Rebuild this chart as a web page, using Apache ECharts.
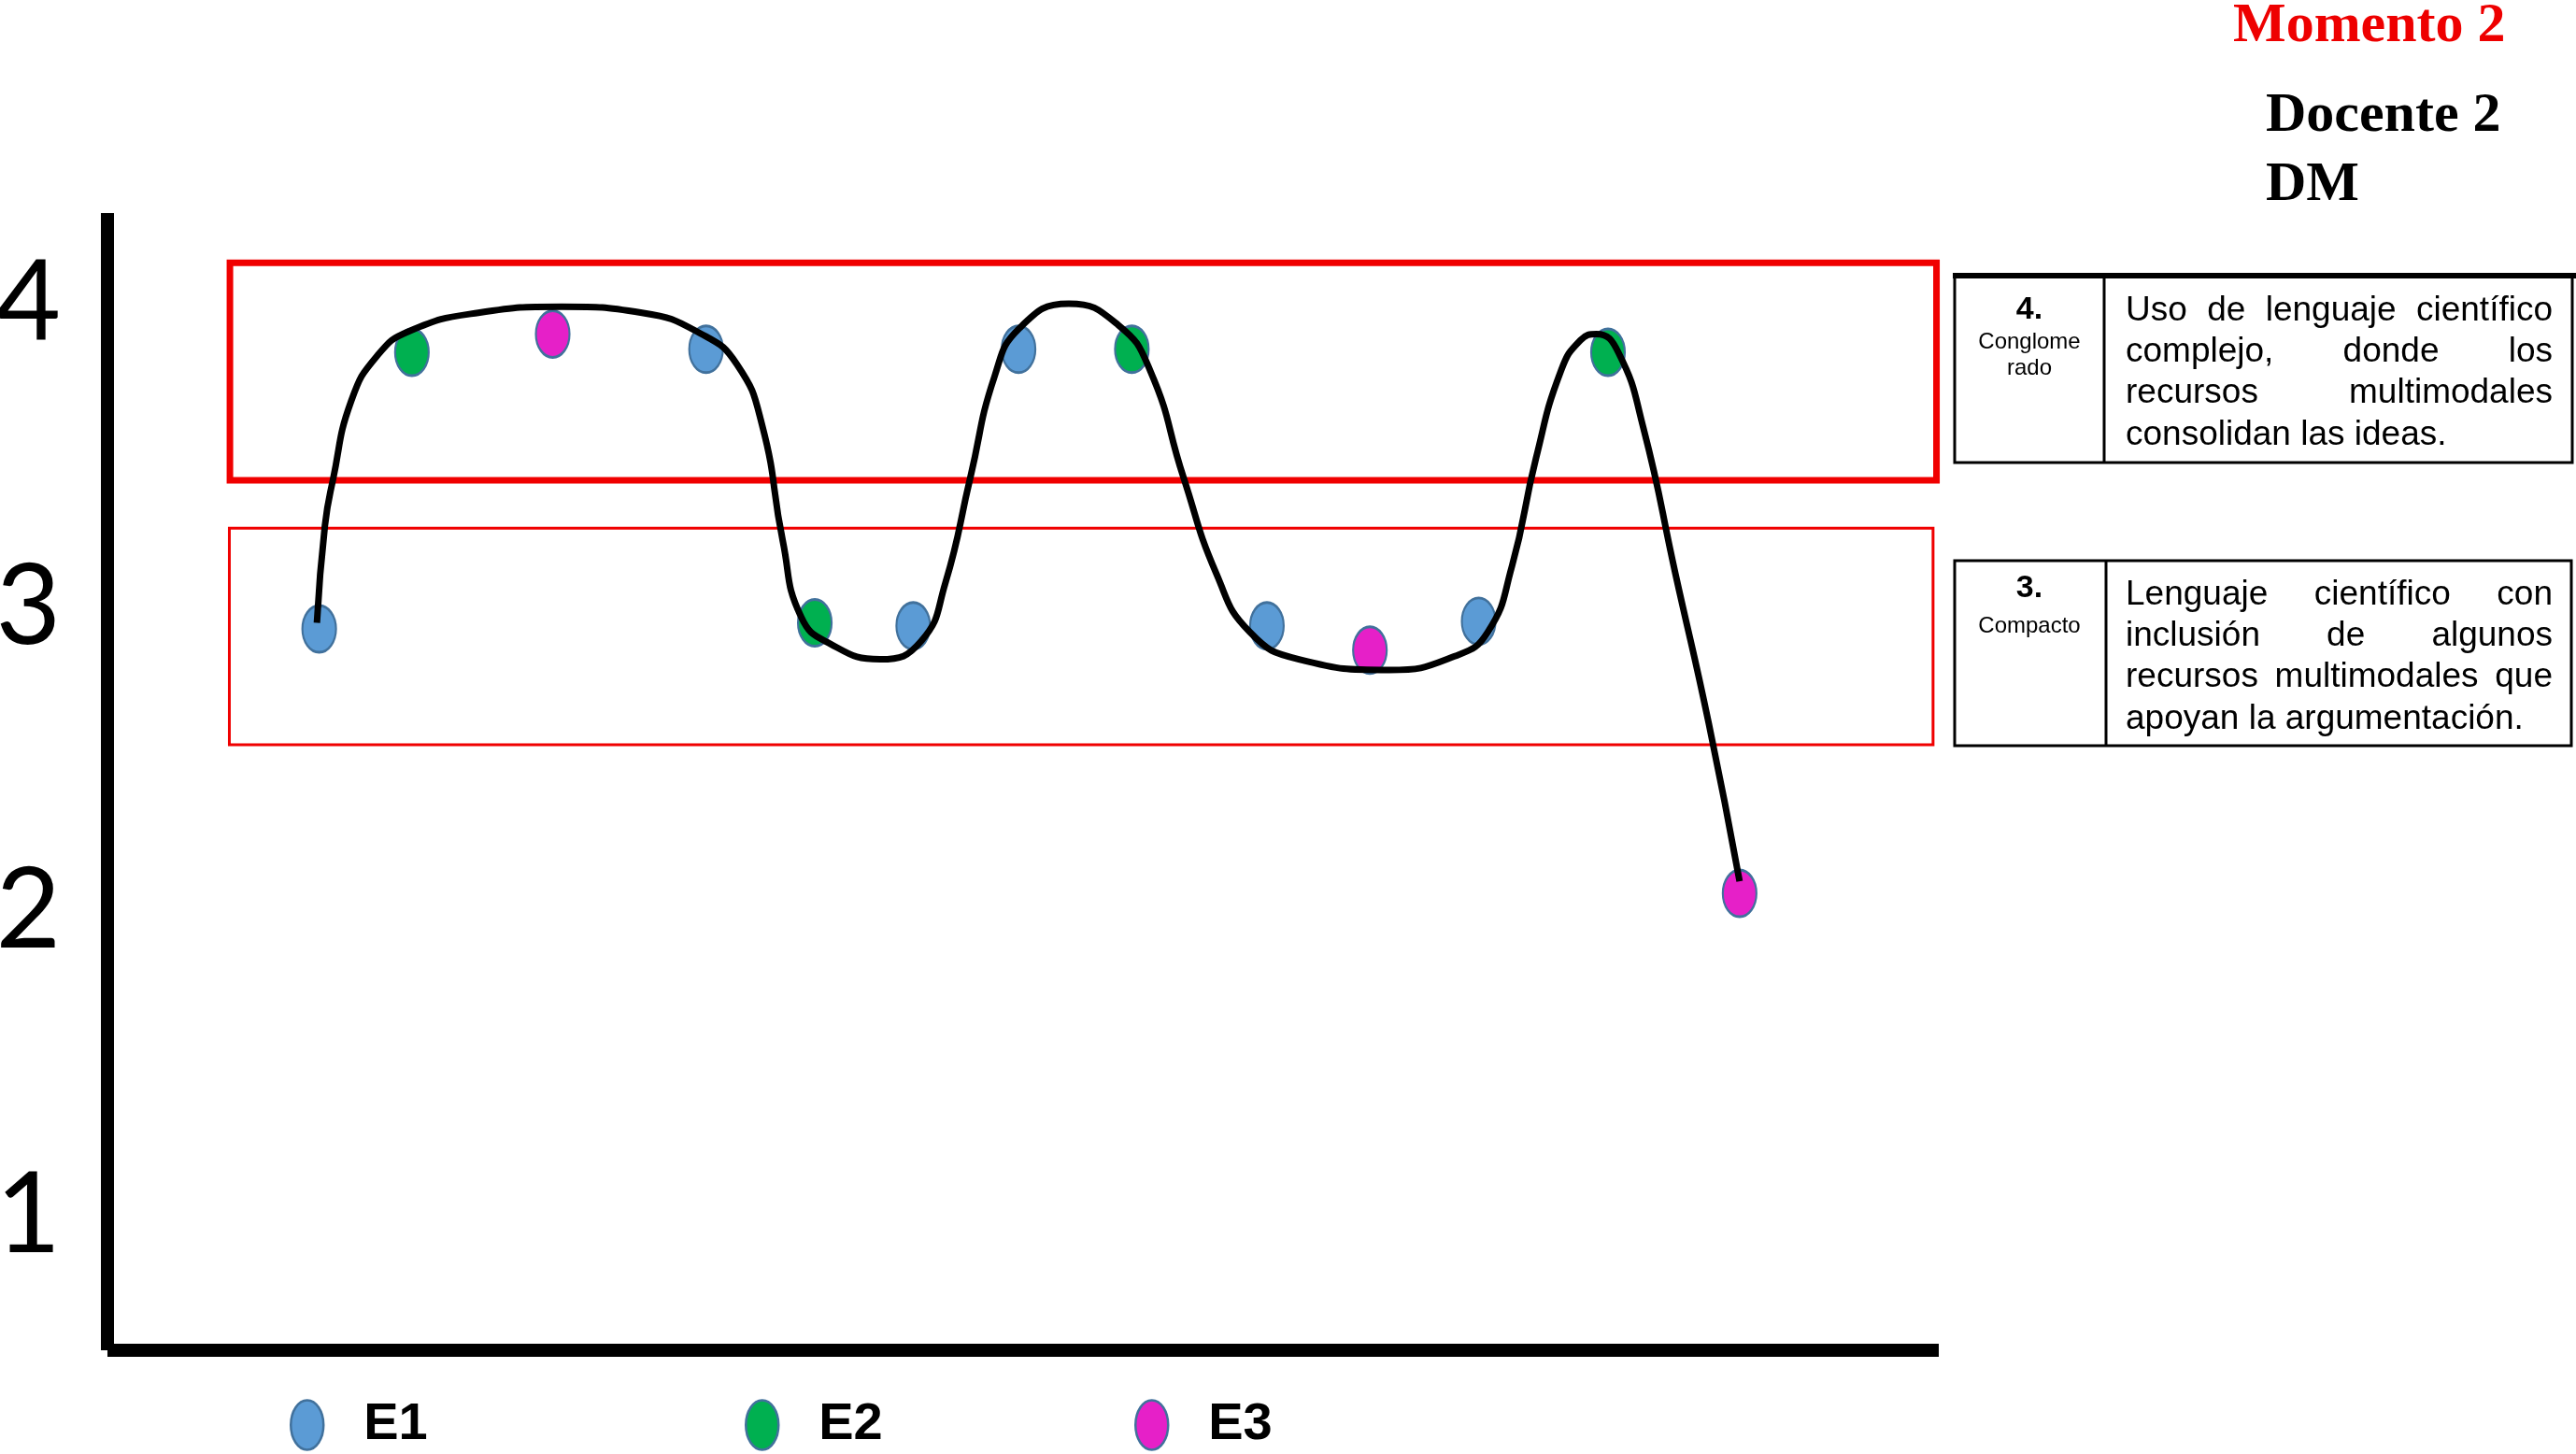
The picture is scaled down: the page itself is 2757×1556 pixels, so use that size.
<!DOCTYPE html>
<html>
<head>
<meta charset="utf-8">
<script src="https://cdn.jsdelivr.net/npm/echarts@6/dist/echarts.min.js"></script>
<style>
  html, body { margin: 0; padding: 0; background: #fff; }
  #main { width: 2757px; height: 1556px; }
</style>
</head>
<body>
<div id="main"></div>
<script>
// Niveles del eje Y
const yTicks = [1, 2, 3, 4];

// Puntos de cada estudiante [posición, nivel]
const e1Points = [[1.85, 2.93], [5.23, 3.85], [7.04, 2.94], [7.96, 3.85], [10.13, 2.94], [11.98, 2.955]];
const e2Points = [[2.66, 3.84], [6.18, 2.95], [8.95, 3.85], [13.11, 3.84]];
const e3Points = [[3.89, 3.9], [11.03, 2.86], [14.26, 2.06]];

// Curva de tendencia (trazo negro)
const trendLine = [
  [1.83, 2.95], [1.9, 3.27], [1.97, 3.42], [2.13, 3.68], [2.36, 3.83], [2.64, 3.91], [3.24, 3.97],
  [3.97, 3.99], [4.67, 3.97], [5.19, 3.9], [5.5, 3.8], [5.72, 3.6], [5.9, 3.22], [6.06, 2.97],
  [6.32, 2.88], [6.75, 2.83], [7.11, 2.89], [7.32, 3.08], [7.54, 3.43], [7.75, 3.76], [7.97, 3.92],
  [8.4, 4.0], [8.83, 3.93], [9.11, 3.78], [9.4, 3.43], [9.69, 3.11], [9.98, 2.92], [10.41, 2.83],
  [11.2, 2.795], [11.77, 2.84], [12.06, 2.92], [12.27, 3.135], [12.48, 3.49], [12.7, 3.78],
  [12.87, 3.88], [13.01, 3.9], [13.2, 3.84], [13.42, 3.59], [13.7, 3.11], [13.99, 2.62], [14.26, 2.1]
];

// Franjas rojas [xInicio, yArriba, xFin, yAbajo]
const band4 = [1.07, 4.134, 15.98, 3.419];
const band3 = [1.065, 3.261, 15.95, 2.549];

// Tablas de niveles
const levelNumbers = ["4.", "3."];
const levelNames = [["Conglome", "rado"], ["Compacto"]];
const levelLines = [
  ["Uso de lenguaje científico", "complejo, donde los", "recursos multimodales", "consolidan las ideas."],
  ["Lenguaje científico con", "inclusión de algunos", "recursos multimodales que", "apoyan la argumentación."]
];

const seriesNames = ["E1", "E2", "E3"];
const seriesColors = ["#5B9BD5", "#00B050", "#E620C8"];

const ellipse = "path://M0,50 A50,50 0 1,0 100,50 A50,50 0 1,0 0,50 Z";
const sansFont = '"Liberation Sans", Arial, sans-serif';
const serifFont = '"Liberation Serif", "Times New Roman", serif';

const chart = echarts.init(document.getElementById("main"), null, { renderer: "canvas" });

// Medición de texto para justificar las líneas
const measureCtx = document.createElement("canvas").getContext("2d");
function textLine(line, left, right, y, font, justify) {
  const words = line.split(" ");
  measureCtx.font = font;
  const widths = words.map((w) => measureCtx.measureText(w).width);
  const total = widths.reduce((a, b) => a + b, 0);
  const gap = justify && words.length > 1
    ? (right - left - total) / (words.length - 1)
    : measureCtx.measureText(" ").width;
  let x = left;
  return words.map((w, i) => {
    const el = {
      type: "text", x: x, y: y, z: 10,
      style: { text: w, font: font, fill: "#000", align: "left", verticalAlign: "middle" },
    };
    x += widths[i] + gap;
    return el;
  });
}

// Tablas a la derecha
const tables = [
  { top: 295, bottom: 495, right: 2753, divider: 2252, numY: 332, nameY: 366, lineY: 332.5 },
  { top: 600, bottom: 798, right: 2752, divider: 2254, numY: 630, nameY: 670, lineY: 636.5 },
];
const graphics = [];
tables.forEach((t, i) => {
  graphics.push({
    type: "rect", z: 10,
    shape: { x: 2092, y: t.top, width: t.right - 2092, height: t.bottom - t.top },
    style: { fill: null, stroke: "#000", lineWidth: 3 },
  });
  graphics.push({
    type: "line", z: 10,
    shape: { x1: t.divider, y1: t.top, x2: t.divider, y2: t.bottom },
    style: { stroke: "#000", lineWidth: 3 },
  });
  graphics.push({
    type: "text", x: 2172, y: t.numY, z: 10,
    style: { text: levelNumbers[i], font: "bold 34px " + sansFont, fill: "#000", align: "center", verticalAlign: "middle" },
  });
  levelNames[i].forEach((n, k) => {
    graphics.push({
      type: "text", x: 2172, y: t.nameY + k * 28, z: 10,
      style: { text: n, font: "24px " + sansFont, fill: "#000", align: "center", verticalAlign: "middle" },
    });
  });
  levelLines[i].forEach((line, k) => {
    const last = k === levelLines[i].length - 1;
    graphics.push(...textLine(line, 2275, 2732, t.lineY + k * 44.3, "37px " + sansFont, !last));
  });
});
// borde superior grueso de la primera tabla
graphics.push({
  type: "line", z: 11,
  shape: { x1: 2090, y1: 295, x2: 2757, y2: 295 },
  style: { stroke: "#000", lineWidth: 6 },
});

// Títulos
graphics.push(
  { type: "text", x: 2390, y: 28, style: { text: "Momento 2", font: "bold 60px " + serifFont, fill: "#EE0000", align: "left", verticalAlign: "middle" } },
  { type: "text", x: 2425, y: 124, style: { text: "Docente 2", font: "bold 60px " + serifFont, fill: "#000", align: "left", verticalAlign: "middle" } },
  { type: "text", x: 2425, y: 198, style: { text: "DM", font: "bold 60px " + serifFont, fill: "#000", align: "left", verticalAlign: "middle" } }
);

// Leyendas separadas (espaciado desigual)
const legendLefts = [305, 792, 1209];
const legends = seriesNames.map((name, i) => ({
  data: [name],
  left: legendLefts[i],
  top: 1492,
  icon: ellipse,
  itemWidth: 35,
  itemHeight: 53,
  symbolKeepAspect: false,
  selectedMode: false,
  itemStyle: { color: seriesColors[i], borderColor: "#41719C", borderWidth: 2.5 },
  textStyle: { fontSize: 56, fontWeight: "bold", fontFamily: sansFont, color: "#000", padding: [0, 0, 0, 38] },
}));

const pointSeries = [e1Points, e2Points, e3Points].map((pts, i) => ({
  name: seriesNames[i],
  type: "scatter",
  data: pts,
  symbol: ellipse,
  symbolSize: [36, 50],
  z: 3,
  itemStyle: { color: seriesColors[i], borderColor: "#41719C", borderWidth: 2.5, opacity: 1 },
}));

chart.setOption({
  animation: false,
  backgroundColor: "#fff",
  grid: { left: 115, right: 682, top: 228, bottom: 111, outerBoundsMode: "none", containLabel: false },
  legend: legends,
  xAxis: {
    type: "value",
    min: 0,
    max: 16,
    axisLine: { show: true, onZero: false, lineStyle: { color: "#000", width: 14, cap: "butt" } },
    axisTick: { show: false },
    axisLabel: { show: false },
    splitLine: { show: false },
  },
  yAxis: {
    type: "value",
    min: 0.557,
    max: 4.298,
    axisLine: { show: true, lineStyle: { color: "#000", width: 14, cap: "butt" } },
    axisTick: { show: false },
    axisLabel: {
      customValues: yTicks,
      fontSize: 120,
      fontFamily: "Lato, Calibri, sans-serif",
      color: "#000",
      margin: 50,
    },
    splitLine: { show: false },
  },
  series: [
    ...pointSeries,
    {
      name: "tendencia",
      type: "line",
      data: trendLine,
      smooth: 0.5,
      showSymbol: false,
      z: 5,
      lineStyle: { color: "#000", width: 7 },
      markArea: {
        silent: true,
        data: [
          [
            { coord: [band4[0], band4[1]], itemStyle: { color: "rgba(0,0,0,0)", borderColor: "#F00000", borderWidth: 7 } },
            { coord: [band4[2], band4[3]] },
          ],
          [
            { coord: [band3[0], band3[1]], itemStyle: { color: "rgba(0,0,0,0)", borderColor: "#F00000", borderWidth: 3 } },
            { coord: [band3[2], band3[3]] },
          ],
        ],
      },
    },
  ],
  graphic: graphics,
});
</script>
</body>
</html>
